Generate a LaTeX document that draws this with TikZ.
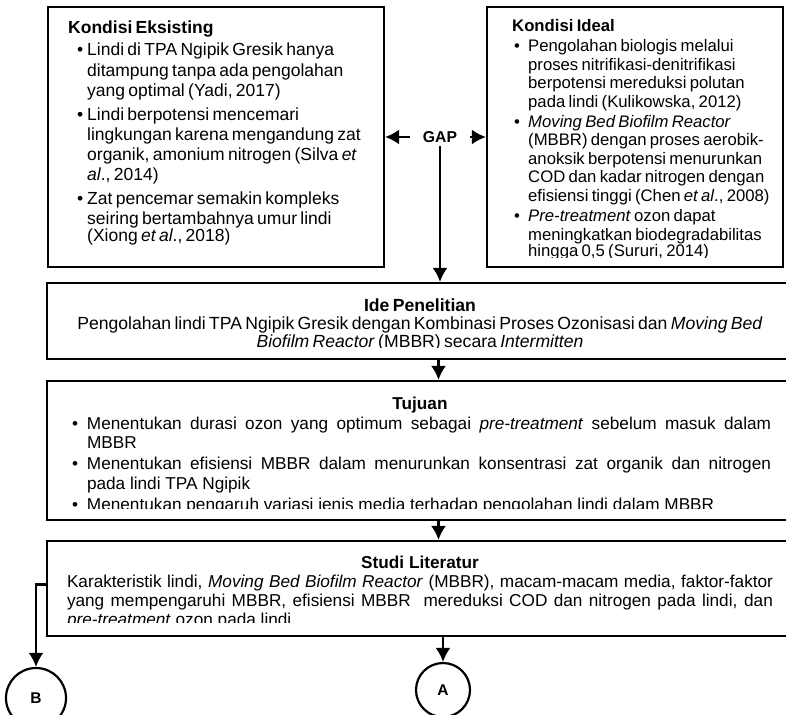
\documentclass[tikz,border=0pt]{standalone}
\usepackage{fontspec}
\setmainfont{Liberation Sans}
\usepackage{tikz}
\usetikzlibrary{arrows.meta}

\newcommand{\itembul}[2]{\hspace*{#1}\makebox[#2][l]{\textbullet}}
\newcommand{\itemgap}[1]{\hspace*{#1}}
\newcommand{\wordspace}{\spaceskip=0.278em plus 0.3em\relax\hyphenpenalty=10000\exhyphenpenalty=10000}

\begin{document}
\begin{tikzpicture}[x=1pt, y=-1pt, >={Latex[length=14pt,width=15pt]},
  box/.style={rectangle, draw, line width=2.2pt, inner sep=0pt},
  txt/.style={inner sep=0pt, anchor=base},
  circ/.style={circle, draw, line width=2.2pt, inner sep=0pt, font=\bfseries\fontsize{15.5}{18}\selectfont},
  arr/.style={->, line width=2.2pt}]

\useasboundingbox (0,0) rectangle (786,714);
\clip (0,0) rectangle (786,714);

\node[box, minimum width=336pt, minimum height=260pt] (eks) at (216,137) {};
\node[box, minimum width=296pt, minimum height=260pt] (ideal) at (635,137) {};
\node[box, minimum width=783pt, minimum height=76pt] (ide) at (438.5,321) {};
\node[box, minimum width=783pt, minimum height=139pt] (tuj) at (438.5,450.5) {};
\node[box, minimum width=783pt, minimum height=95pt] (studi) at (438.5,588.5) {};

\node[inner xsep=13pt, inner ysep=3pt, font=\bfseries\fontsize{15.7}{18}\selectfont] (gap) at (440,137) {GAP};
\node[circ, minimum size=60pt] (B) at (36,698) {B};
\node[circ, minimum size=54pt] (A) at (443,690) {A};

\node[txt, anchor=base west, text width=310pt, align=left] (eksText) at (68,34) {\fontsize{17.5}{20.2}\selectfont
\textbf{Kondisi Eksisting}\\[1.8pt]
\itembul{9pt}{10pt}Lindi di TPA Ngipik Gresik hanya\\
\itemgap{19pt}ditampung tanpa ada pengolahan\\
\itemgap{19pt}yang optimal (Yadi, 2017)\\[3.5pt]
\itembul{9pt}{10pt}Lindi berpotensi mencemari\\
\itemgap{19pt}lingkungan karena mengandung zat\\
\itemgap{19pt}organik, amonium nitrogen (Silva \textit{et}\\
\itemgap{19pt}\textit{al}., 2014)\\[3.5pt]
\itembul{9pt}{10pt}Zat pencemar semakin kompleks\\
\itemgap{19pt}seiring bertambahnya umur lindi\\
\itemgap{19pt}(Xiong \textit{et al}., 2018)};

\begin{scope}
\clip (488,8) rectangle (783,257);
\node[txt, anchor=base west, text width=275pt, align=left] (idealText) at (512,32) {\fontsize{16.7}{18.55}\selectfont
\textbf{Kondisi Ideal}\\[1pt]
\itembul{2pt}{14pt}Pengolahan biologis melalui\\
\itemgap{16pt}proses nitrifikasi-denitrifikasi\\
\itemgap{16pt}berpotensi mereduksi polutan\\
\itemgap{16pt}pada lindi (Kulikowska, 2012)\\[1.5pt]
\itembul{2pt}{14pt}\textit{Moving Bed Biofilm Reactor}\\
\itemgap{16pt}(MBBR) dengan proses aerobik-\\
\itemgap{16pt}anoksik berpotensi menurunkan\\
\itemgap{16pt}COD dan kadar nitrogen dengan\\
\itemgap{16pt}efisiensi tinggi (Chen \textit{et al}., 2008)\\[1.5pt]
\itembul{2pt}{14pt}\textit{Pre-treatment} ozon dapat\\
\itemgap{16pt}meningkatkan biodegradabilitas\\
\itemgap{16pt}hingga 0,5 (Sururi, 2014)};
\end{scope}

\begin{scope}
\clip (48,284) rectangle (829,347.5);
\node[txt, text width=730pt, align=center] (ideText) at (420,311) {\fontsize{17.6}{18.7}\selectfont
\textbf{Ide Penelitian}\\
Pengolahan lindi TPA Ngipik Gresik dengan Kombinasi Proses Ozonisasi dan \textit{Moving Bed}\\
\textit{Biofilm Reactor} (MBBR) secara \textit{Intermitten}};
\end{scope}

\begin{scope}
\clip (48,382) rectangle (829,508.5);
\node[txt, text width=702pt, align=justify] (tujText) at (420,409) {\fontsize{17.2}{19.2}\selectfont\wordspace
{\centering\textbf{Tujuan}\par}\vspace{0.8pt}
\hangindent=18pt\hangafter=1\itembul{3pt}{15pt}Menentukan durasi ozon yang optimum sebagai \textit{pre-treatment} sebelum masuk dalam MBBR\par\vspace{2.5pt}
\hangindent=18pt\hangafter=1\itembul{3pt}{15pt}Menentukan efisiensi MBBR dalam menurunkan konsentrasi zat organik dan nitrogen pada lindi TPA Ngipik\par\vspace{2.5pt}
\hangindent=18pt\hangafter=1\itembul{3pt}{15pt}Menentukan pengaruh variasi jenis media terhadap pengolahan lindi dalam MBBR\par};
\end{scope}

\begin{scope}
\clip (48,542) rectangle (829,622.5);
\node[txt, text width=706pt, align=justify] (studiText) at (420,568) {\fontsize{17.2}{19}\selectfont\wordspace
{\centering\textbf{Studi Literatur}\par}
Karakteristik lindi, \textit{Moving Bed Biofilm Reactor} (MBBR), macam-macam media, faktor-faktor yang mempengaruhi MBBR, efisiensi MBBR\ \ mereduksi COD dan nitrogen pada lindi, dan \textit{pre-treatment} ozon pada lindi\par};
\end{scope}

\draw[arr] (gap.west) -- (eks.east);
\draw[arr] (gap.east) -- (ideal.west);
\draw[arr] (gap.south) -- (gap.south |- ide.north);
\draw[arr] (ide) -- (tuj);
\draw[arr] (tuj) -- (studi);
\draw[arr] (studi.south -| A) -- (A);
\draw[arr] ([yshift=4pt]studi.west) -| (B);

\end{tikzpicture}
\end{document}
